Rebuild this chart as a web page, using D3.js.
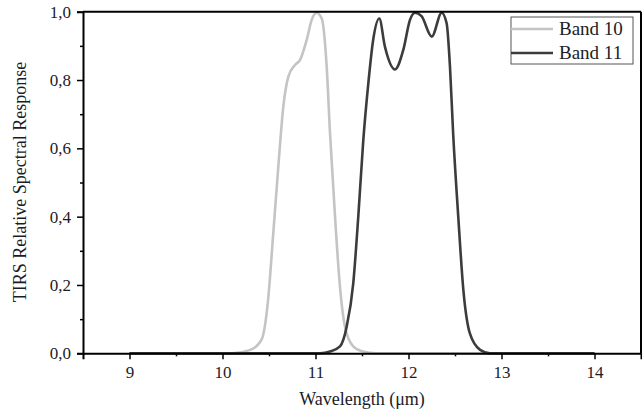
<!DOCTYPE html>
<html>
<head>
    <meta charset="utf-8">
    <style>
        body { margin: 0; background: white; }
        svg { display: block; font-family: 'Liberation Serif', 'Times New Roman', serif; }
        .tick text { fill: #1c1c28; }
    </style>
</head>
<body>
<svg id="chart" width="642" height="412"></svg>
<script src="https://d3js.org/d3.v7.min.js"></script>
<script>
    // wavelength (um) and relative response
    let band10_x = [9, 10.1, 10.3, 10.42, 10.49, 10.546, 10.6, 10.654, 10.708, 10.78, 10.833, 10.905, 10.959, 11.01, 11.067, 11.12, 11.156, 11.21, 11.263, 11.317, 11.406, 11.51, 11.65, 14]
    let band10_y = [0, 0, 0.01, 0.04, 0.156, 0.352, 0.546, 0.722, 0.81, 0.844, 0.858, 0.917, 0.976, 0.997, 0.98, 0.84, 0.645, 0.40, 0.195, 0.078, 0.02, 0.005, 0, 0]

    let band11_x = [9, 11.05, 11.156, 11.263, 11.335, 11.406, 11.46, 11.514, 11.568, 11.62, 11.686, 11.747, 11.855, 11.944, 12.016, 12.07, 12.14, 12.25, 12.357, 12.41, 12.446, 12.48, 12.535, 12.59, 12.66, 12.77, 12.876, 14]
    let band11_y = [0, 0, 0.005, 0.02, 0.078, 0.205, 0.40, 0.624, 0.79, 0.917, 0.98, 0.897, 0.831, 0.888, 0.976, 0.997, 0.987, 0.927, 0.997, 0.966, 0.839, 0.644, 0.40, 0.185, 0.058, 0.01, 0, 0]

    let xTicks = [9, 10, 11, 12, 13, 14]
    let yTicks = [0, 0.2, 0.4, 0.6, 0.8, 1.0]

    let series = [
        {name: "Band 10", color: "#c4c4c4", xs: band10_x, ys: band10_y},
        {name: "Band 11", color: "#3c3c3c", xs: band11_x, ys: band11_y}
    ]

    let mLeft = 83, mRight = 641, mTop = 11.7, mBottom = 353.3
    let svg = d3.select("#chart")

    let x = d3.scaleLinear().domain([8.5, 14.5]).range([mLeft, mRight])
    let y = d3.scaleLinear().domain([0, 1]).range([mBottom, mTop])

    // minor ticks
    svg.append("g")
        .attr("transform", `translate(0,${mBottom})`)
        .call(d3.axisBottom(x).tickValues(d3.range(9.5, 14, 1)).tickSize(3).tickFormat(""))
        .call(g => g.select(".domain").remove())
    svg.append("g")
        .attr("transform", `translate(${mLeft},0)`)
        .call(d3.axisLeft(y).tickValues(d3.range(0.1, 1, 0.2)).tickSize(3).tickFormat(""))
        .call(g => g.select(".domain").remove())

    // lines
    let line = d3.line().curve(d3.curveMonotoneX)
    series.forEach(s => {
        svg.append("path")
            .datum(s.xs.map((v, i) => [x(v), y(s.ys[i])]))
            .attr("d", line)
            .attr("fill", "none")
            .attr("stroke", s.color)
            .attr("stroke-width", 2.6)
            .attr("stroke-linejoin", "round")
    })

    // major axes
    let xAxis = svg.append("g")
        .attr("transform", `translate(0,${mBottom})`)
        .call(d3.axisBottom(x).tickValues(xTicks).tickSize(6).tickPadding(7).tickFormat(d3.format("d")))
    xAxis.selectAll("text").attr("font-size", 17).attr("font-family", "'Liberation Serif', serif")
    let yAxis = svg.append("g")
        .attr("transform", `translate(${mLeft},0)`)
        .call(d3.axisLeft(y).tickValues(yTicks).tickSize(6).tickPadding(6).tickFormat(d => d3.format(".1f")(d).replace(".", ",")))
    yAxis.selectAll("text").attr("font-size", 17).attr("font-family", "'Liberation Serif', serif")
    svg.selectAll(".domain").attr("stroke-width", 2).attr("stroke", "#000")
    svg.selectAll(".tick line").attr("stroke-width", 1.5)

    // frame top and right
    svg.append("line").attr("x1", mLeft).attr("x2", mRight).attr("y1", mTop).attr("y2", mTop)
        .attr("stroke", "#000").attr("stroke-width", 2)
    svg.append("line").attr("x1", mRight).attr("x2", mRight).attr("y1", mTop).attr("y2", mBottom)
        .attr("stroke", "#000").attr("stroke-width", 2)

    // axis titles
    svg.append("text")
        .attr("x", (mLeft + mRight) / 2).attr("y", 405)
        .attr("text-anchor", "middle").attr("font-size", 18).attr("fill", "#1c1c28")
        .text("Wavelength (μm)")
    svg.append("text")
        .attr("transform", "translate(26,182) rotate(-90)")
        .attr("text-anchor", "middle").attr("font-size", 18).attr("fill", "#1c1c28")
        .text("TIRS Relative Spectral Response")

    // legend
    let legend = svg.append("g").attr("transform", "translate(511,17)")
    legend.append("rect").attr("width", 122).attr("height", 47)
        .attr("fill", "white").attr("stroke", "#555").attr("stroke-width", 1)
    series.forEach((s, i) => {
        legend.append("line").attr("x1", 0).attr("x2", 42)
            .attr("y1", 12 + i * 24).attr("y2", 12 + i * 24)
            .attr("stroke", s.color).attr("stroke-width", 2.6)
        legend.append("text").attr("x", 48).attr("y", 12 + i * 24 + 6)
            .attr("font-size", 19).attr("fill", "#1c1c28")
            .text(s.name)
    })
</script>
</body>
</html>
